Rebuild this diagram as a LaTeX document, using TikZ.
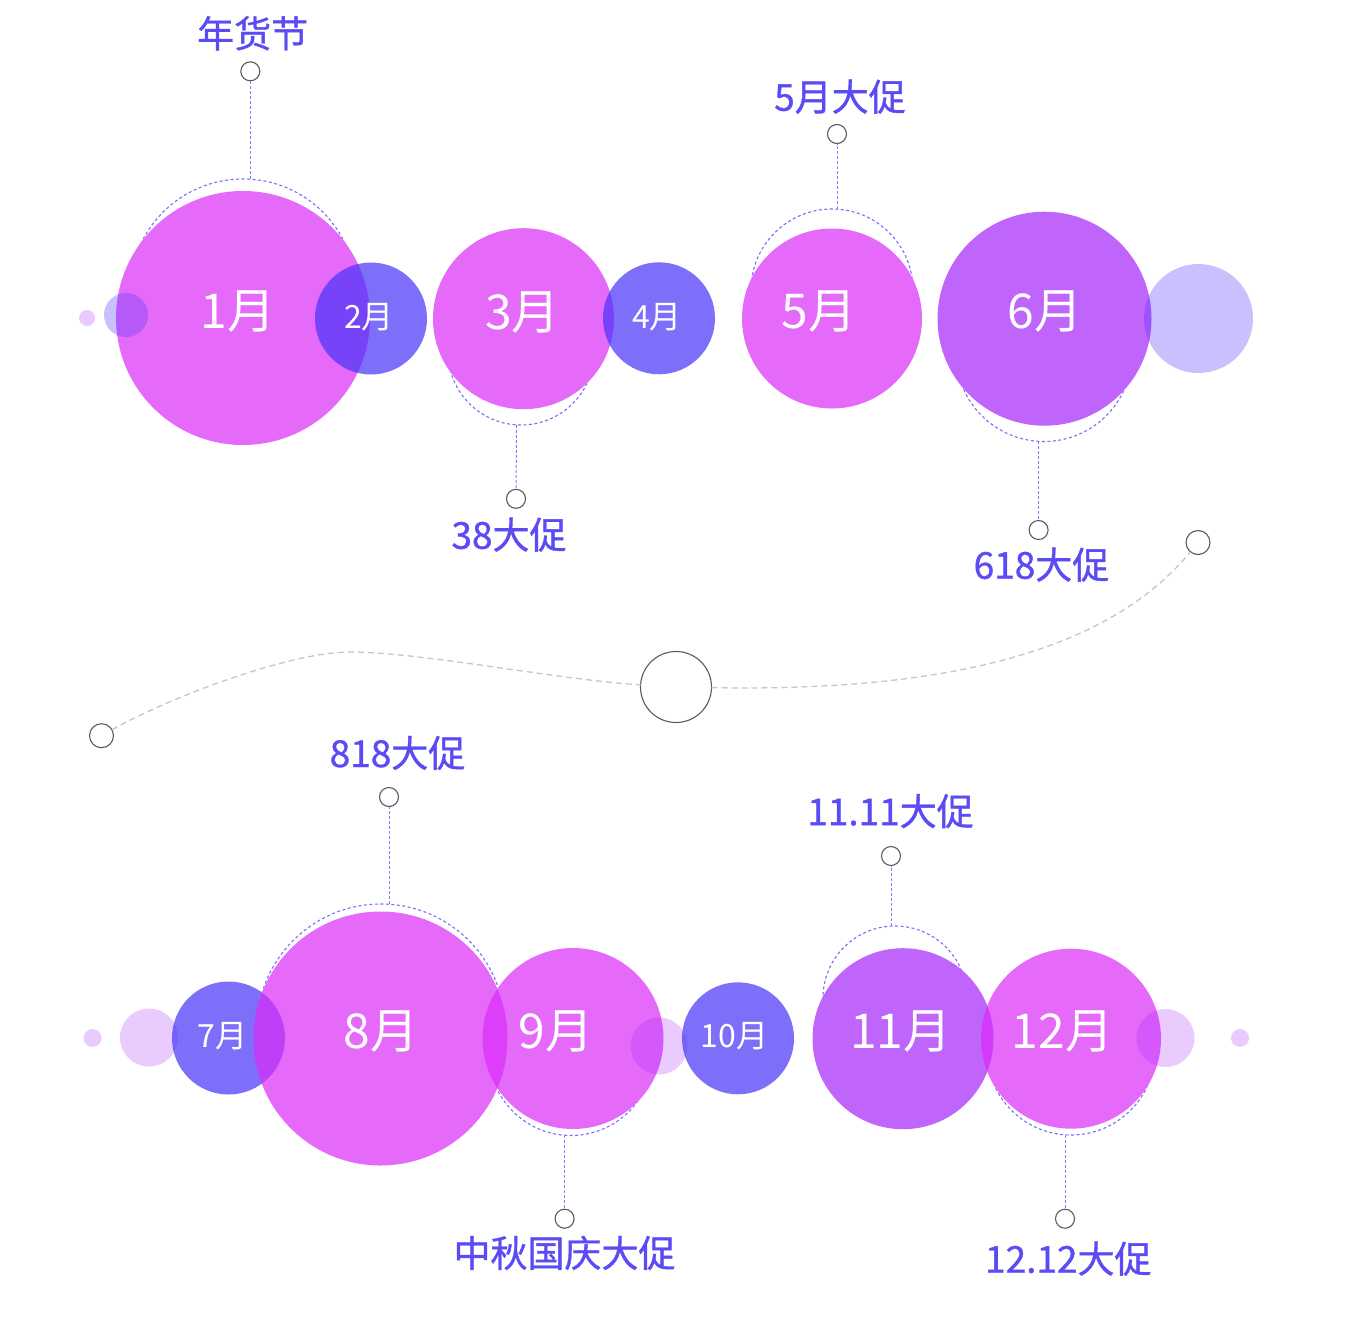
\documentclass[tikz,border=0pt]{standalone}
\usepackage{fontspec}
\setmainfont{Noto Sans CJK SC}
\newfontfamily\tagfont[FakeBold=1]{Noto Sans CJK SC}
\definecolor{cmag}{RGB}{219,44,249}
\definecolor{cblue}{RGB}{72,51,249}
\definecolor{cpur}{RGB}{166,36,252}
\definecolor{clabel}{RGB}{91,75,245}
\definecolor{cring}{RGB}{124,108,249}
\definecolor{cconn}{RGB}{138,124,248}
\definecolor{cpin}{RGB}{90,90,90}
\definecolor{ccurve}{RGB}{198,198,198}
\begin{document}
\begin{tikzpicture}[x=1pt,y=-1pt,
  disc/.style={circle,inner sep=0pt,outer sep=0pt,minimum size=#1},
  under/.style={disc=#1,fill=white},
  mag/.style={disc=#1,fill=cmag,fill opacity=0.7},
  blu/.style={disc=#1,fill=cblue,fill opacity=0.7},
  pur/.style={disc=#1,fill=cpur,fill opacity=0.7},
  lav/.style={disc=#1,fill=cblue,fill opacity=0.3},
  lite/.style={disc=#1,fill=cpur,fill opacity=0.24},
  ring/.style={disc=#1,draw=cring,line width=1.1pt,dash pattern=on 3pt off 2.5pt},
  pin/.style={disc=#1,draw=cpin,line width=1.1pt,fill=white},
  conn/.style={draw=cconn,line width=1pt,dash pattern=on 3pt off 2pt},
  curve/.style={draw=ccurve,line width=1.3pt,dash pattern=on 6pt off 4pt},
  tag/.style={text=clabel,font=\tagfont\fontsize{37}{40}\selectfont,inner sep=0pt,anchor=base},
  mbig/.style={text=white,font=\fontsize{48}{52}\selectfont,inner sep=0pt,anchor=base},
  msml/.style={text=white,font=\fontsize{32}{36}\selectfont,inner sep=0pt,anchor=base}]
\useasboundingbox (0,0) rectangle (1354,1336);

% ---- gray dashed path with hollow circles
\node[pin=24pt] (g1) at (101.5,735.7) {};
\node[pin=71pt,fill=none] (g2) at (676,687) {};
\node[pin=24pt] (g3) at (1198,542.5) {};
\coordinate (gpk) at (350,652);
\draw[curve] (g1) .. controls (170,697) and (290,652) .. (gpk)
  .. controls (420,652) and (560,680) .. (g2);
\draw[curve] (g2) .. controls (950,692) and (1110,650) .. (g3);

% ---- dashed rings
\node[ring=226pt] (r1) at (243,292) {};
\node[ring=146pt] (r3) at (521,352) {};
\node[ring=162pt] (r5) at (832,290) {};
\node[ring=176pt] (r6) at (1044,353.5) {};
\node[ring=248pt] (r8) at (381,1028) {};
\node[ring=164pt] (r9) at (571,1053.5) {};
\node[ring=144pt] (r11) at (895,998) {};
\node[ring=168pt] (r12) at (1071,1051) {};

% ---- connectors and pins
\node[pin=19pt] (p1) at (250.3,71.3) {};
\node[pin=19pt] (p3) at (516,498.8) {};
\node[pin=19pt] (p5) at (837,134) {};
\node[pin=19pt] (p6) at (1038.6,530) {};
\node[pin=19pt] (p8) at (389,797) {};
\node[pin=19pt] (p9) at (564.6,1218.7) {};
\node[pin=19pt] (p11) at (891,856) {};
\node[pin=19pt] (p12) at (1065,1218.7) {};
\coordinate (c1) at (250.3,179.2);
\coordinate (c3) at (516.5,424.9);
\coordinate (c5) at (837,209.2);
\coordinate (c6) at (1038.6,441.3);
\coordinate (c8) at (389,904.2);
\coordinate (c9) at (564.6,1135.3);
\coordinate (c11) at (891,926.1);
\coordinate (c12) at (1065,1134.8);
\draw[conn] (c1) -- (p1);
\draw[conn] (c3) -- (p3);
\draw[conn] (c5) -- (p5);
\draw[conn] (c6) -- (p6);
\draw[conn] (c8) -- (p8);
\draw[conn] (c9) -- (p9);
\draw[conn] (c11) -- (p11);
\draw[conn] (c12) -- (p12);

% ---- white underlays (hide the rings inside the discs)
\node[under=254pt] (u1) at (243,318) {};
\node[under=112pt] (u2) at (371,318.5) {};
\node[under=181pt] (u3) at (523.5,318.7) {};
\node[under=112pt] (u4) at (659,318.3) {};
\node[under=180pt] (u5) at (832,318.5) {};
\node[under=214pt] (u6) at (1044.5,318.7) {};
\node[under=113pt] (u7) at (228.5,1038) {};
\node[under=254pt] (u8) at (380.5,1038.5) {};
\node[under=181pt] (u9) at (573,1038.5) {};
\node[under=112pt] (u10) at (738,1038.3) {};
\node[under=181pt] (u11) at (903,1038.7) {};
\node[under=180pt] (u12) at (1071,1038.7) {};

% ---- top row discs
\node[lite=16pt] (d0) at (87,318) {};
\node[mag=254pt] (m1) at (243,318) {};
\node[lav=44pt] (l0) at (126,315) {};
\node[blu=112pt] (m2) at (371,318.5) {};
\node[mag=181pt] (m3) at (523.5,318.7) {};
\node[blu=112pt] (m4) at (659,318.3) {};
\node[mag=180pt] (m5) at (832,318.5) {};
\node[pur=214pt] (m6) at (1044.5,318.7) {};
\node[lav=109pt] (l1) at (1198.5,318.5) {};

% ---- bottom row discs
\node[lite=18pt] (d1) at (92.5,1038) {};
\node[lite=58pt] (e1) at (149,1037.5) {};
\node[blu=113pt] (m7) at (228.5,1038) {};
\node[mag=254pt] (m8) at (380.5,1038.5) {};
\node[mag=181pt] (m9) at (573,1038.5) {};
\node[lite=57pt] (e2) at (659,1046) {};
\node[blu=112pt] (m10) at (738,1038.3) {};
\node[pur=181pt] (m11) at (903,1038.7) {};
\node[mag=180pt] (m12) at (1071,1038.7) {};
\node[lite=58pt] (e3) at (1165.5,1038) {};
\node[lite=18pt] (d2) at (1240,1038) {};

% ---- month labels
\node[mbig] (t1) at (238,328.8) {1月};
\node[msml] (t2) at (369,328.8) {2月};
\node[mbig] (t3) at (522.5,329.5) {3月};
\node[msml] (t4) at (657,328.8) {4月};
\node[mbig] (t5) at (819,328.8) {5月};
\node[mbig] (t6) at (1045,328.8) {6月};
\node[msml] (t7) at (222.8,1047.5) {7月};
\node[mbig] (t8) at (381,1048.8) {8月};
\node[mbig] (t9) at (555.7,1048.8) {9月};
\node[msml] (t10) at (734.6,1047.5) {10月};
\node[mbig] (t11) at (900.8,1048.8) {11月};
\node[mbig] (t12) at (1062.5,1048.8) {12月};

% ---- event labels
\node[tag] (a1) at (252.7,47.4) {年货节};
\node[tag] (a3) at (509,548.7) {38大促};
\node[tag] (a5) at (840,110.7) {5月大促};
\node[tag] (a6) at (1041.5,578.7) {618大促};
\node[tag] (a8) at (397.5,767) {818大促};
\node[tag] (a11) at (890.5,825.2) {11.11大促};
\node[tag] (a9) at (564.5,1267) {中秋国庆大促};
\node[tag] (a12) at (1068.3,1272.7) {12.12大促};
\end{tikzpicture}
\end{document}
